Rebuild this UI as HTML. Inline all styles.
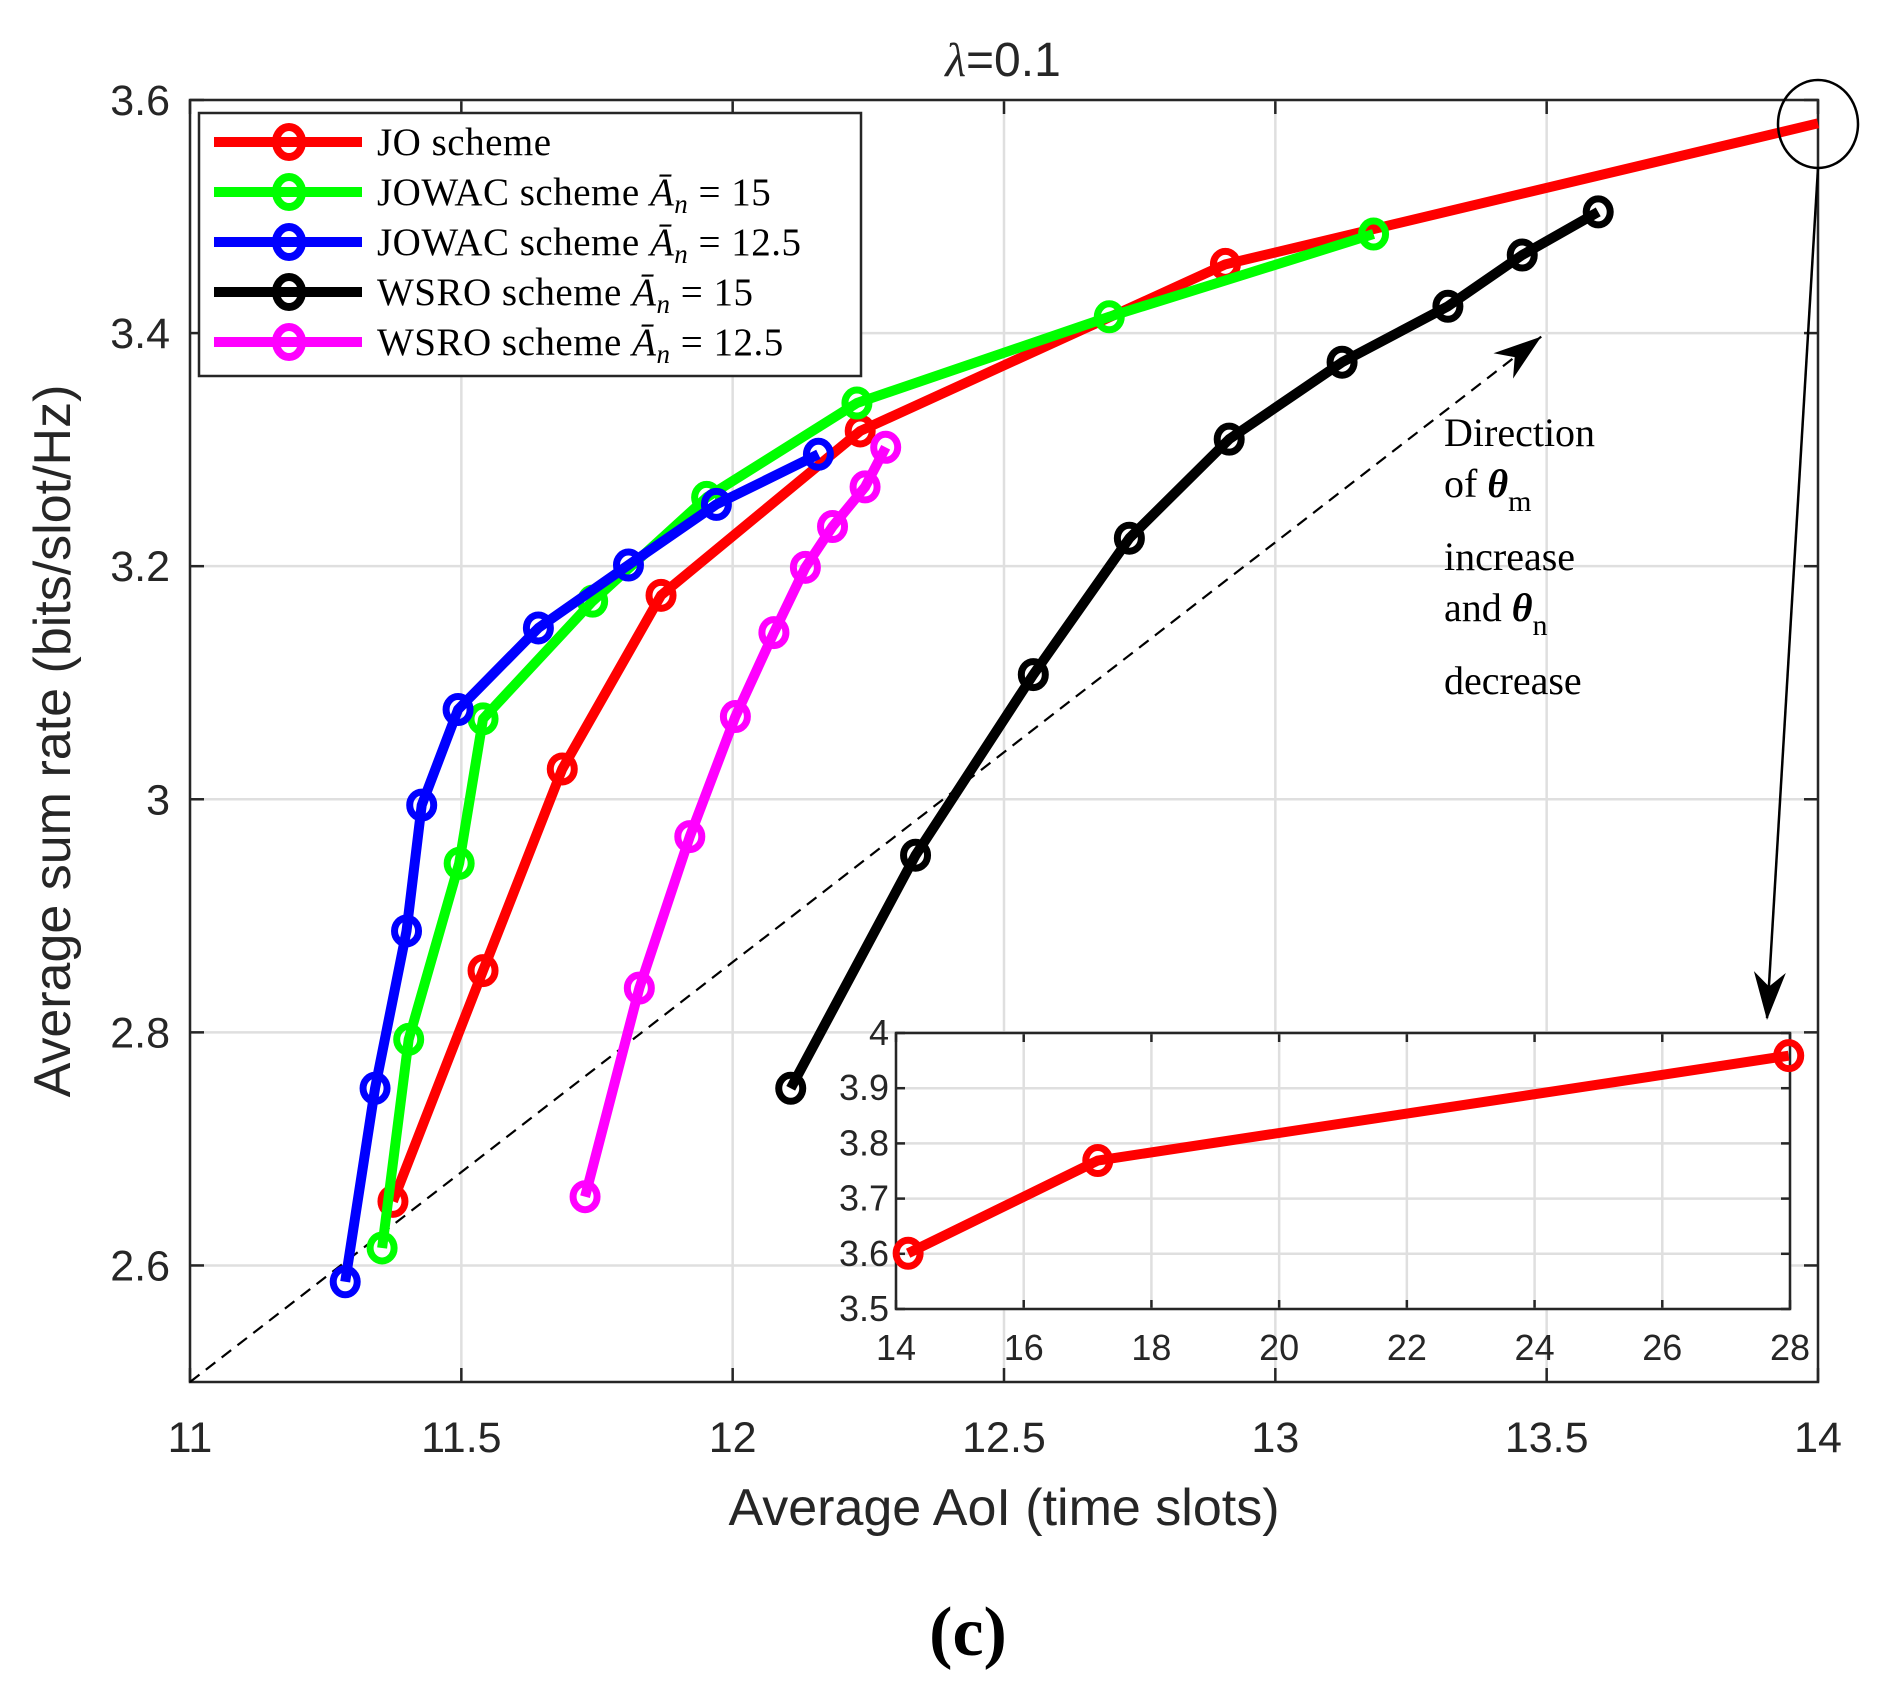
<!DOCTYPE html>
<html><head><meta charset="utf-8"><style>
html,body{margin:0;padding:0;background:#fff}
svg{display:block}
.tk{font-family:"Liberation Sans",sans-serif;fill:#262626}
.sf{font-family:"Liberation Serif",serif;fill:#000}
</style></head><body>
<svg id="c" width="1884" height="1700" viewBox="0 0 1884 1700" xmlns="http://www.w3.org/2000/svg">
<g id="main"></g>
<g id="inset"></g>
<g id="legend"></g>
</svg>
<script>
const xTicks=[11,11.5,12,12.5,13,13.5,14];
const xTickLabels=["11","11.5","12","12.5","13","13.5","14"];
const yTicks=[2.6,2.8,3.0,3.2,3.4,3.6];
const yTickLabels=["2.6","2.8","3","3.2","3.4","3.6"];
const joX=[11.374,11.54,11.686,11.868,12.235,12.908,14.0];
const joY=[2.655,2.853,3.026,3.175,3.316,3.459,3.58];
const joMarkers=[1,1,1,1,1,1,0];
const g15X=[11.354,11.403,11.496,11.54,11.742,11.952,12.229,12.694,13.181];
const g15Y=[2.615,2.794,2.945,3.069,3.170,3.259,3.340,3.414,3.485];
const b125X=[11.286,11.341,11.399,11.427,11.494,11.642,11.808,11.970,12.158];
const b125Y=[2.586,2.752,2.887,2.995,3.077,3.147,3.201,3.253,3.296];
const w15X=[12.107,12.337,12.554,12.731,12.915,13.123,13.318,13.455,13.595];
const w15Y=[2.752,2.952,3.107,3.224,3.309,3.375,3.423,3.467,3.504];
const w125X=[11.728,11.828,11.921,12.005,12.076,12.134,12.184,12.244,12.282];
const w125Y=[2.659,2.838,2.968,3.071,3.143,3.199,3.234,3.268,3.302];
const inXTicks=[14,16,18,20,22,24,26,28];
const inYTicks=[3.5,3.6,3.7,3.8,3.9,4.0];
const inYTickLabels=["3.5","3.6","3.7","3.8","3.9","4"];
const inX=[14.19,17.16,27.98];
const inY=[3.601,3.769,3.959];

const NS="http://www.w3.org/2000/svg";
function mk(tag,attrs,parent,text){const e=document.createElementNS(NS,tag);for(const k in attrs)e.setAttribute(k,attrs[k]);if(text!==undefined)e.textContent=text;parent.appendChild(e);return e;}
const L=190,R=1818,T=100,B=1382;
const xs=v=>L+(v-11)/3*(R-L);
const ys=v=>B-(v-2.5)/1.1*(B-T);
const main=document.getElementById('main');
mk('rect',{x:L,y:T,width:R-L,height:B-T,fill:'#fff'},main);
xTicks.forEach((t,i)=>{
 let l=mk('line',{x1:xs(t),x2:xs(t),y1:T,y2:B,stroke:'#dfdfdf','stroke-width':2.5},main);
 
 let tx=mk('text',{x:xs(t),y:1452,'font-size':43,'text-anchor':'middle',class:'tk'},main,xTickLabels[i]);
 
 mk('line',{x1:xs(t),x2:xs(t),y1:B,y2:B-14,stroke:'#262626','stroke-width':2.5},main);
 mk('line',{x1:xs(t),x2:xs(t),y1:T,y2:T+14,stroke:'#262626','stroke-width':2.5},main);
});
yTicks.forEach((t,i)=>{
 let l=mk('line',{x1:L,x2:R,y1:ys(t),y2:ys(t),stroke:'#dfdfdf','stroke-width':2.5},main);
 
 let tx=mk('text',{x:170,y:ys(t)+15,'font-size':43,'text-anchor':'end',class:'tk'},main,yTickLabels[i]);
 
 mk('line',{x1:L,x2:L+14,y1:ys(t),y2:ys(t),stroke:'#262626','stroke-width':2.5},main);
 mk('line',{x1:R,x2:R-14,y1:ys(t),y2:ys(t),stroke:'#262626','stroke-width':2.5},main);
});
mk('rect',{x:L,y:T,width:R-L,height:B-T,fill:'none',stroke:'#262626','stroke-width':2.5},main);
let dl=mk('line',{x1:xs(11),y1:ys(2.5),x2:xs(13.49),y2:ys(3.397),stroke:'#000','stroke-width':2.2,'stroke-dasharray':'12,8'},main);

function arrowHead(x1,y1,x2,y2,parent){const a=Math.atan2(y2-y1,x2-x1),len=48,w=16;
 const bx=x2-len*Math.cos(a),by=y2-len*Math.sin(a),nx=-Math.sin(a),ny=Math.cos(a);
 const mx=x2-len*0.7*Math.cos(a),my=y2-len*0.7*Math.sin(a);
 mk('path',{d:`M${x2},${y2}L${bx+nx*w},${by+ny*w}L${mx},${my}L${bx-nx*w},${by-ny*w}Z`,fill:'#000'},parent);}
arrowHead(xs(11),ys(2.5),xs(13.49),ys(3.397),main);
function series(X,Y,color,name,markers,parent,fx,fy){
 const g=mk('g',{},parent);
 mk('polyline',{points:X.map((x,i)=>fx(x)+','+fy(Y[i])).join(' '),fill:'none',stroke:color,'stroke-width':10,'stroke-linejoin':'round'},g);
 X.forEach((x,i)=>{if(markers&&!markers[i])return;
  const c=mk('ellipse',{cx:fx(x),cy:fy(Y[i]),rx:12,ry:13,fill:'none',stroke:color,'stroke-width':7},g);
  });
}
series(joX,joY,'#ff0000','jo-series',joMarkers,main,xs,ys);
series(g15X,g15Y,'#00ff00','jowac-15-series',null,main,xs,ys);
series(b125X,b125Y,'#0000ff','jowac-12.5-series',null,main,xs,ys);
series(w15X,w15Y,'#000000','wsro-15-series',null,main,xs,ys);
series(w125X,w125Y,'#ff00ff','wsro-12.5-series',null,main,xs,ys);
let ce=mk('ellipse',{cx:1818,cy:124,rx:40,ry:44,fill:'none',stroke:'#000','stroke-width':2.5},main);

mk('line',{x1:1818,y1:168,x2:1767,y2:1018,stroke:'#000','stroke-width':2.5},main);
arrowHead(1818,168,1767,1020,main);
const ann=mk('text',{x:1444,'font-size':40,class:'sf'},main);

[["Direction",446],["of ",497],["increase",570],["and ",621],["decrease",694]].forEach(([t,y],i)=>{
 mk('tspan',{x:1444,y:y},ann,t);
 if(i==1||i==3){mk('tspan',{'font-style':'italic','font-weight':'bold'},ann,'θ');
  mk('tspan',{'font-size':30,dy:14},ann,i==1?'m':'n');}
});
let tt=mk('text',{x:1003,y:76,'font-size':48,'text-anchor':'middle',class:'tk'},main);

mk('tspan',{'font-family':'Liberation Serif,serif','font-style':'italic'},tt,'λ');mk('tspan',{},tt,'=0.1');
let xl=mk('text',{x:1004,y:1525,'font-size':52,'text-anchor':'middle',class:'tk'},main,'Average AoI (time slots)');

let yl=mk('text',{x:0,y:0,'font-size':52,'text-anchor':'middle',class:'tk',transform:'translate(70,741) rotate(-90)'},main,'Average sum rate (bits/slot/Hz)');

let cap=mk('text',{x:968,y:1655,'font-size':70,'text-anchor':'middle','font-weight':'bold',class:'sf'},main,'(c)');

const inset=document.getElementById('inset');
const IL=896,IR=1790,IT=1033,IB=1309;
const ixs=v=>IL+(v-14)/14*(IR-IL), iys=v=>IB-(v-3.5)/0.5*(IB-IT);
mk('rect',{x:IL,y:IT,width:IR-IL,height:IB-IT,fill:'#fff'},inset);
inXTicks.forEach(t=>{
 mk('line',{x1:ixs(t),x2:ixs(t),y1:IT,y2:IB,stroke:'#dfdfdf','stroke-width':2.5},inset);
 mk('line',{x1:ixs(t),x2:ixs(t),y1:IB,y2:IB-9,stroke:'#262626','stroke-width':2.5},inset);
 mk('line',{x1:ixs(t),x2:ixs(t),y1:IT,y2:IT+9,stroke:'#262626','stroke-width':2.5},inset);
 let tx=mk('text',{x:ixs(t),y:1360,'font-size':36,'text-anchor':'middle',class:'tk'},inset,String(t));
 
});
inYTicks.forEach((t,i)=>{
 mk('line',{x1:IL,x2:IR,y1:iys(t),y2:iys(t),stroke:'#dfdfdf','stroke-width':2.5},inset);
 mk('line',{x1:IL,x2:IL+9,y1:iys(t),y2:iys(t),stroke:'#262626','stroke-width':2.5},inset);
 mk('line',{x1:IR,x2:IR-9,y1:iys(t),y2:iys(t),stroke:'#262626','stroke-width':2.5},inset);
 let tx=mk('text',{x:889,y:iys(t)+12,'font-size':36,'text-anchor':'end',class:'tk'},inset,inYTickLabels[i]);
 
});
mk('rect',{x:IL,y:IT,width:IR-IL,height:IB-IT,fill:'none',stroke:'#262626','stroke-width':2.5},inset);
series(inX,inY,'#ff0000','inset-jo-series',null,inset,ixs,iys);
const lg=document.getElementById('legend');
mk('rect',{x:199,y:113,width:662,height:263,fill:'#fff',stroke:'#262626','stroke-width':2.5},lg);
const legColors=['#ff0000','#00ff00','#0000ff','#000000','#ff00ff'];
const legNames=['JO scheme','JOWAC scheme ','JOWAC scheme ','WSRO scheme ','WSRO scheme '];
const legVals=['','15','12.5','15','12.5'];
legColors.forEach((c,i)=>{
 const y=142+i*50;
 const g=mk('g',{},lg);
 mk('line',{x1:214,x2:362,y1:y,y2:y,stroke:c,'stroke-width':10},g);
 mk('ellipse',{cx:289,cy:y,rx:13,ry:15,fill:'none',stroke:c,'stroke-width':8},g);
 const t=mk('text',{x:377,y:y+13,'font-size':39,class:'sf','letter-spacing':'0.5'},g,legNames[i]);
 if(legVals[i]){mk('tspan',{'font-style':'italic'},t,'Ā');mk('tspan',{'font-style':'italic','font-size':27,dy:8},t,'n');
  mk('tspan',{dy:-8},t,' = '+legVals[i]);}
});
</script>
</body></html>
